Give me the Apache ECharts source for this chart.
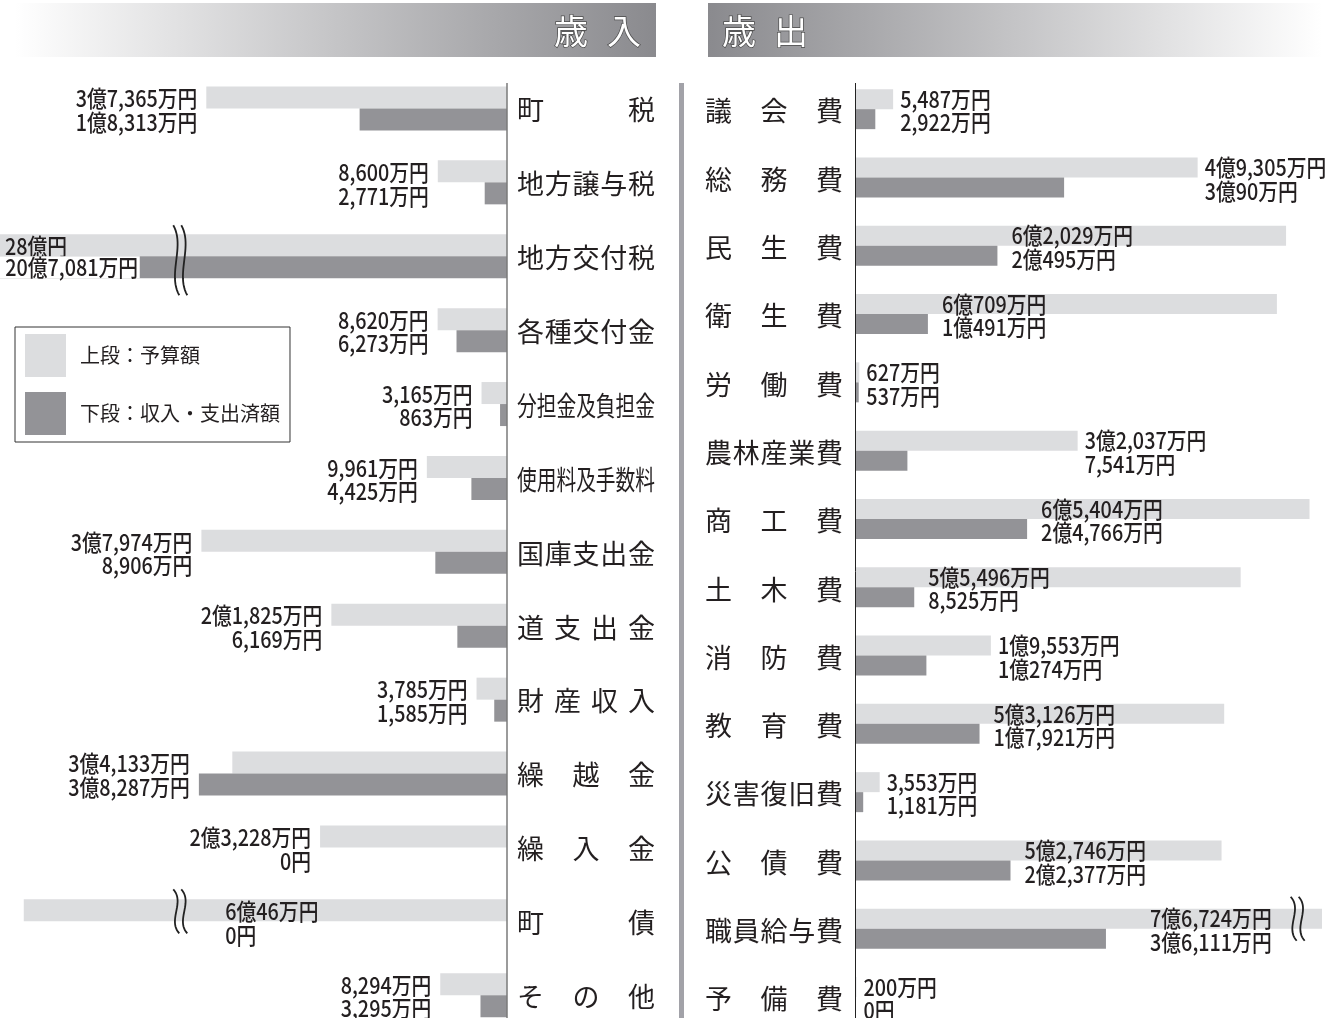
<!DOCTYPE html>
<html><head><meta charset="utf-8">
<script src="https://cdn.jsdelivr.net/npm/echarts@6/dist/echarts.min.js"></script>
<style>html,body{margin:0;padding:0;background:#fff;overflow:hidden}#wrap{width:1336px;height:1018px;overflow:hidden;position:relative}#c{width:1336px;height:1060px;position:absolute;left:0;top:0}</style>
</head><body><div id="wrap"><div id="c"></div></div>
<script>
// values in 万円
const revenueCategories = ['町税','地方譲与税','地方交付税','各種交付金','分担金及負担金','使用料及手数料','国庫支出金','道支出金','財産収入','繰越金','繰入金','町債','その他'];
const revenueBudget = [37365, 8600, 280000, 8620, 3165, 9961, 37974, 21825, 3785, 34133, 23228, 60046, 8294];
const revenueActual = [18313, 2771, 207081, 6273, 863, 4425, 8906, 6169, 1585, 38287, 0, 0, 3295];
const expenseCategories = ['議会費','総務費','民生費','衛生費','労働費','農林産業費','商工費','土木費','消防費','教育費','災害復旧費','公債費','職員給与費','予備費'];
const expenseBudget = [5487, 49305, 62029, 60709, 627, 32037, 65404, 55496, 19553, 53126, 3553, 52746, 76724, 200];
const expenseActual = [2922, 30090, 20495, 10491, 537, 7541, 24766, 8525, 10274, 17921, 1181, 22377, 36111, 0];
const seriesNames = ['上段：予算額','下段：収入・支出済額'];
const panelTitles = ['歳入','歳出'];

const LIGHT = '#dcdddf', DARK = '#939397', INK = '#231f20';
const FONT = "'Noto Sans CJK JP','Noto Sans',sans-serif";
const chart = echarts.init(document.getElementById('c'));
const L_MAX = 63000, R_MAX = 67200;

function fmt(v){
  if(v===0) return '0円';
  const oku = Math.floor(v/10000), man = v%10000;
  let s = '';
  if(oku>0) s += oku + '億';
  if(man>0) s += man.toLocaleString('en-US') + '万';
  return s + '円';
}

const VAL_FS = 23, VAL_SX = 0.86;
function valText(text, x, y, align, extra){
  const st = {text, font: '500 '+VAL_FS+'px '+FONT, fill: INK, align, verticalAlign:'middle'};
  if(extra) Object.assign(st, extra);
  return {type:'text', x, y, scaleX: VAL_SX, style: st};
}
function catChars(name, x0, x1, y){
  const n = name.length, fs = 27, W = x1-x0;
  const s = n*fs > W ? W/(n*fs) : 1;
  const cw = fs*s, out = [];
  for(let k=0;k<n;k++){
    const cx = n===1 ? (x0+x1)/2 : x0 + cw/2 + k*(W-cw)/(n-1);
    out.push({type:'text', x: cx, y, scaleX: s, style:{text:name[k], font: fs+'px '+FONT, fill: INK, align:'center', verticalAlign:'middle'}});
  }
  return out;
}
function bez(p0,p1,p2,p3,n){
  const pts=[];
  for(let k=0;k<=n;k++){const t=k/n,u=1-t;
    pts.push([u*u*u*p0[0]+3*u*u*t*p1[0]+3*u*t*t*p2[0]+t*t*t*p3[0], u*u*u*p0[1]+3*u*u*t*p1[1]+3*u*t*t*p2[1]+t*t*t*p3[1]]);}
  return pts;
}
function breakGlyph(x, top, bottom){
  const h = bottom-top, out=[];
  [x-4, x+4].forEach(cx=>{
    out.push({type:'polyline', shape:{points: bez([cx-3,top],[cx+9,top+h*0.3],[cx-9,top+h*0.7],[cx+3,bottom],24)},
      style:{stroke:'#222', lineWidth:1.8, fill:null}});
  });
  return out;
}

function makeRenderer(side){
  const L = side==='L';
  const budget = L ? revenueBudget : expenseBudget;
  const actual = L ? revenueActual : expenseActual;
  const cats = L ? revenueCategories : expenseCategories;
  const axisMax = L ? L_MAX : R_MAX;
  const breakAt = L ? 40600 : 63700;
  const over = L ? 40600 : R_MAX;
  return function(params, api){
    const i = api.value(1);
    const b = budget[i], a = actual[i];
    const c0 = api.coord([0, i]);
    const x0 = c0[0], cy = c0[1];
    const yU = cy - 10, yL = cy + 13.5;
    const ch = [];
    if(L) ch.push(...catChars(cats[i], x0+10, x0+148, cy+1.5));
    else ch.push(...catChars(cats[i], x0-150, x0-12, cy+2));
    const bB = b > over, aB = a > over;
    const bx = api.coord([breakAt, i])[0];
    if(bB && aB){
      const edge = api.coord([axisMax, i])[0];
      ch.push(valText(fmt(b), edge+5, yU, 'left'));
      ch.push(valText(fmt(a), edge, cy+11, 'left', {backgroundColor:'#fff', padding:[0,2,0,6], lineHeight:22}));
      ch.push(...breakGlyph(bx, cy-31, cy+39));
    } else if(bB){
      if(L){ ch.push(valText(fmt(b), bx+45, yU, 'left')); ch.push(valText(fmt(a), bx+45, yL, 'left')); }
      else { ch.push(valText(fmt(b), bx-26, yU, 'right')); ch.push(valText(fmt(a), bx-26, yL, 'right')); }
      ch.push(...breakGlyph(bx, cy-32, cy+12));
    } else if(L){
      const x = api.coord([Math.max(a,b), i])[0] - 9;
      ch.push(valText(fmt(b), x, yU, 'right'));
      ch.push(valText(fmt(a), x, yL, 'right'));
    } else {
      const x = b < 50000 ? api.coord([b, i])[0] + 7 : api.coord([a, i])[0] + 14;
      ch.push(valText(fmt(b), x, yU, 'left'));
      ch.push(valText(fmt(a), x, yL, 'left'));
    }
    return {type:'group', children: ch};
  };
}

const LG = {left:0, top:71.5, width:507, height:13*73.9};
const RG = {left:855, top:75, width:467, height:14*68.3};
const titleStyle = {font:'34px '+FONT, fill:'#fff', stroke:'#4a4a4a', lineWidth:1.4, align:'center', verticalAlign:'middle'};

const option = {
  animation:false,
  backgroundColor:'#fff',
  grid:[Object.assign({containLabel:false}, LG), Object.assign({containLabel:false}, RG)],
  xAxis:[
    {gridIndex:0, type:'value', inverse:true, min:0, max:L_MAX, show:false},
    {gridIndex:1, type:'value', min:0, max:R_MAX, show:false}
  ],
  yAxis:[
    {gridIndex:0, type:'category', data:revenueCategories, inverse:true, show:false},
    {gridIndex:1, type:'category', data:expenseCategories, inverse:true, show:false}
  ],
  legend:{data:seriesNames, orient:'vertical', left:15, top:327, itemWidth:41, itemHeight:43, itemGap:15, icon:'rect',
    borderColor:'#333', borderWidth:1, padding:[7,10,7,10], backgroundColor:'#fff', selectedMode:false,
    textStyle:{fontSize:20, color:INK, fontFamily:FONT, padding:[0,0,0,9]}},
  series:[
    {name:seriesNames[0], type:'bar', xAxisIndex:0, yAxisIndex:0, data:revenueBudget, barWidth:22, barGap:'0%', itemStyle:{color:LIGHT}},
    {name:seriesNames[1], type:'bar', xAxisIndex:0, yAxisIndex:0, data:revenueActual, barWidth:22, barGap:'0%', itemStyle:{color:DARK}},
    {name:seriesNames[0], type:'bar', xAxisIndex:1, yAxisIndex:1, data:expenseBudget, barWidth:20, barGap:'0%', itemStyle:{color:LIGHT}},
    {name:seriesNames[1], type:'bar', xAxisIndex:1, yAxisIndex:1, data:expenseActual, barWidth:20, barGap:'0%', itemStyle:{color:DARK}},
    {type:'custom', xAxisIndex:0, yAxisIndex:0, z:5, silent:true, clip:false, encode:{x:0,y:1},
      data: revenueCategories.map((c,i)=>[0,i]), renderItem: makeRenderer('L')},
    {type:'custom', xAxisIndex:1, yAxisIndex:1, z:5, silent:true, clip:false, encode:{x:0,y:1},
      data: expenseCategories.map((c,i)=>[0,i]), renderItem: makeRenderer('R')}
  ],
  graphic:[
    {type:'rect', z:1, shape:{x:15,y:3,width:641,height:54}, style:{fill:new echarts.graphic.LinearGradient(0,0,1,0,[{offset:0,color:'#ffffff'},{offset:1,color:'#8a8a8e'}])}},
    {type:'rect', z:1, shape:{x:708,y:3,width:614,height:54}, style:{fill:new echarts.graphic.LinearGradient(0,0,1,0,[{offset:0,color:'#8a8a8e'},{offset:1,color:'#ffffff'}])}},
    {type:'text', z:2, x:571, y:31, style:Object.assign({text:panelTitles[0][0]}, titleStyle)},
    {type:'text', z:2, x:624, y:31, style:Object.assign({text:panelTitles[0][1]}, titleStyle)},
    {type:'text', z:2, x:739, y:31, style:Object.assign({text:panelTitles[1][0]}, titleStyle)},
    {type:'text', z:2, x:791, y:31, style:Object.assign({text:panelTitles[1][1]}, titleStyle)},
    {type:'line', z:10, shape:{x1:507,y1:83,x2:507,y2:1060}, style:{stroke:'#7a7a7a', lineWidth:1.5}},
    {type:'line', z:10, shape:{x1:855.5,y1:83,x2:855.5,y2:1060}, style:{stroke:'#222', lineWidth:1}},
    {type:'line', z:10, shape:{x1:681.5,y1:83,x2:681.5,y2:1060}, style:{stroke:'#a2a2a8', lineWidth:5}}
  ]
};
chart.setOption(option);
</script>
</body></html>
